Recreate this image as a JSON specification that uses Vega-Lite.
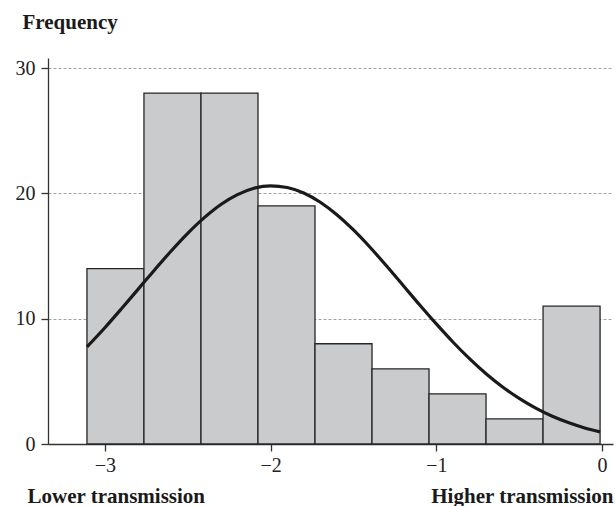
{
  "$schema": "https://vega.github.io/schema/vega-lite/v6.json",
  "width": 565,
  "height": 386,
  "autosize": {"type": "none"},
  "padding": {"left": 48, "top": 58, "right": 2, "bottom": 62},
  "background": "white",
  "config": {
    "view": {"stroke": null},
    "font": "Liberation Serif",
    "axis": {
      "labelFont": "Liberation Serif",
      "titleFont": "Liberation Serif",
      "labelFontSize": 20,
      "labelColor": "#222222",
      "titleFontSize": 21,
      "titleFontWeight": "bold",
      "titleColor": "#1a1a1a",
      "domainColor": "#333333",
      "domainWidth": 1.3,
      "tickColor": "#333333",
      "tickWidth": 1.3,
      "tickSize": 7
    }
  },
  "datasets": {
    "bins": [
      {"bin_start": -3.108, "bin_end": -2.764, "frequency": 14},
      {"bin_start": -2.764, "bin_end": -2.420, "frequency": 28},
      {"bin_start": -2.420, "bin_end": -2.076, "frequency": 28},
      {"bin_start": -2.076, "bin_end": -1.732, "frequency": 19},
      {"bin_start": -1.732, "bin_end": -1.388, "frequency": 8},
      {"bin_start": -1.388, "bin_end": -1.044, "frequency": 6},
      {"bin_start": -1.044, "bin_end": -0.700, "frequency": 4},
      {"bin_start": -0.700, "bin_end": -0.356, "frequency": 2},
      {"bin_start": -0.356, "bin_end": -0.012, "frequency": 11}
    ],
    "curve": [
      {"x": -3.108, "fitted": 7.75},
      {"x": -3.0, "fitted": 9.28},
      {"x": -2.9, "fitted": 10.79},
      {"x": -2.8, "fitted": 12.34},
      {"x": -2.7, "fitted": 13.89},
      {"x": -2.6, "fitted": 15.40},
      {"x": -2.5, "fitted": 16.81},
      {"x": -2.4, "fitted": 18.06},
      {"x": -2.3, "fitted": 19.11},
      {"x": -2.2, "fitted": 19.90},
      {"x": -2.1, "fitted": 20.41},
      {"x": -2.0, "fitted": 20.60},
      {"x": -1.9, "fitted": 20.47},
      {"x": -1.8, "fitted": 20.03},
      {"x": -1.7, "fitted": 19.29},
      {"x": -1.6, "fitted": 18.29},
      {"x": -1.5, "fitted": 17.08},
      {"x": -1.4, "fitted": 15.70},
      {"x": -1.3, "fitted": 14.20},
      {"x": -1.2, "fitted": 12.65},
      {"x": -1.1, "fitted": 11.09},
      {"x": -1.0, "fitted": 9.58},
      {"x": -0.9, "fitted": 8.14},
      {"x": -0.8, "fitted": 6.81},
      {"x": -0.7, "fitted": 5.61},
      {"x": -0.6, "fitted": 4.55},
      {"x": -0.5, "fitted": 3.64},
      {"x": -0.4, "fitted": 2.86},
      {"x": -0.3, "fitted": 2.21},
      {"x": -0.2, "fitted": 1.69},
      {"x": -0.1, "fitted": 1.26},
      {"x": -0.012, "fitted": 0.97}
    ]
  },
  "layer": [
    {
      "data": {"name": "bins"},
      "mark": {"type": "rect", "fill": "#cacbcd", "stroke": "#262626", "strokeWidth": 1.3},
      "encoding": {
        "x": {
          "field": "bin_start",
          "type": "quantitative",
          "scale": {"domain": [-3.343, 0.066], "nice": false, "zero": false},
          "axis": {
            "values": [-3, -2, -1, 0],
            "grid": false,
            "labelPadding": 4,
            "title": "Lower transmission",
            "titleX": -21,
            "titleY": 58,
            "titleAlign": "left",
            "titleBaseline": "alphabetic"
          }
        },
        "x2": {"field": "bin_end"},
        "y": {
          "field": "frequency",
          "type": "quantitative",
          "scale": {"domain": [0, 30.8], "nice": false, "zero": true},
          "axis": {
            "values": [0, 10, 20, 30],
            "grid": true,
            "gridColor": "#8a8a8a",
            "gridDash": [3, 2],
            "gridWidth": 0.8,
            "labelPadding": 6,
            "title": "Frequency",
            "titleAngle": 0,
            "titleX": -26,
            "titleY": -30,
            "titleAlign": "left",
            "titleBaseline": "alphabetic"
          }
        },
        "y2": {"datum": 0}
      }
    },
    {
      "data": {"name": "curve"},
      "mark": {"type": "line", "color": "#1a1a1a", "strokeWidth": 3.2, "interpolate": "monotone"},
      "encoding": {
        "x": {
          "field": "x",
          "type": "quantitative",
          "axis": {
            "orient": "bottom",
            "labels": false,
            "ticks": false,
            "domain": false,
            "grid": false,
            "title": "Higher transmission",
            "titleX": 565,
            "titleY": 58,
            "titleAlign": "right",
            "titleBaseline": "alphabetic"
          }
        },
        "y": {"field": "fitted", "type": "quantitative"}
      }
    }
  ],
  "resolve": {"axis": {"x": "independent"}}
}
